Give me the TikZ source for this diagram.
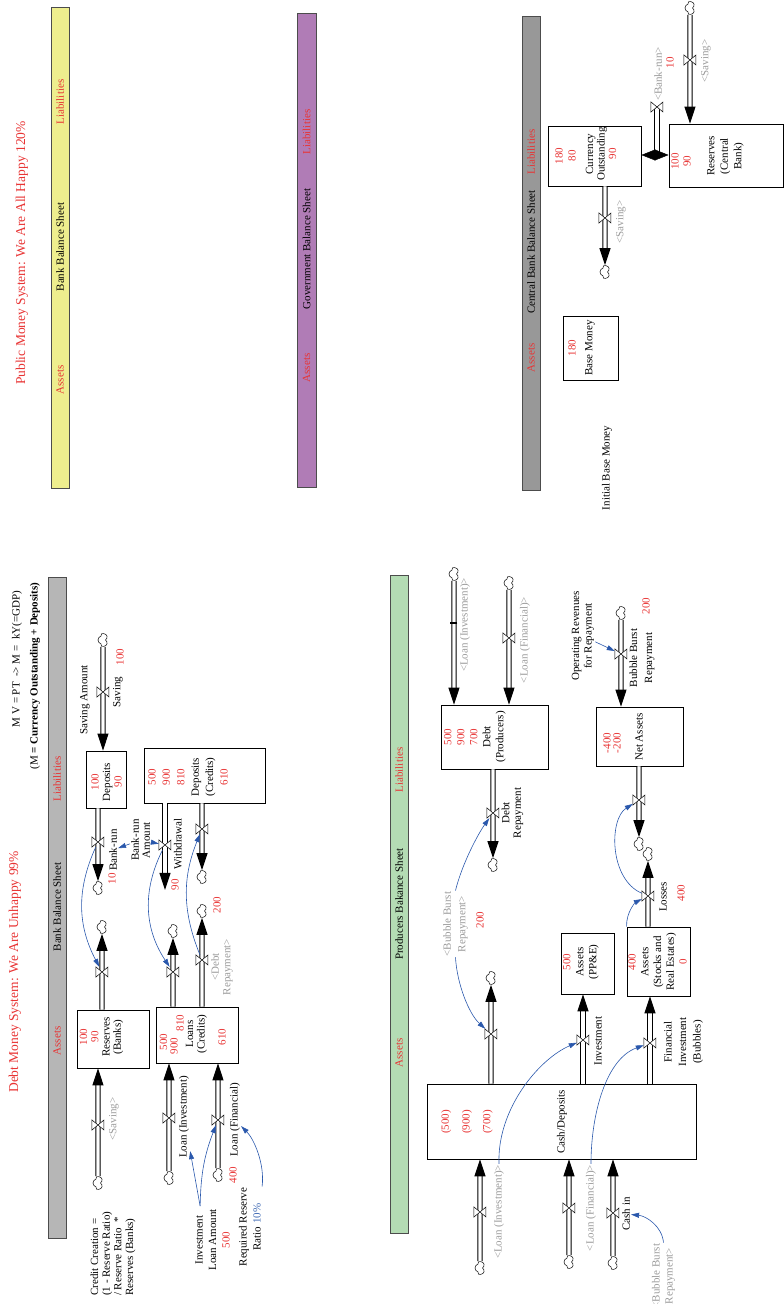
\documentclass[tikz,border=0pt]{standalone}
\usepackage{fontspec}
\setmainfont{Liberation Serif}
\usetikzlibrary{arrows.meta,positioning,shapes.symbols,calc}
\definecolor{valred}{RGB}{232,52,52}
\definecolor{shade}{RGB}{155,155,155}
\definecolor{infoblue}{RGB}{42,88,172}
\definecolor{ratioblue}{RGB}{62,105,180}
\definecolor{bankgray}{RGB}{182,182,182}
\definecolor{cbgray}{RGB}{152,152,152}
\definecolor{prodgreen}{RGB}{180,220,180}
\definecolor{bankyellow}{RGB}{238,238,142}
\definecolor{govpurple}{RGB}{176,124,182}
\newcommand{\fsz}[2]{\fontsize{#1}{#2}\selectfont}
\newcommand{\rv}[1]{\textcolor{valred}{#1}}
\tikzset{
  every node/.style={inner sep=1pt,font=\fsz{11}{12.5}},
  stock/.style={draw,line width=.8pt,fill=white,inner sep=0pt},
  sheet/.style={draw=black!70,line width=.8pt,fill=#1,minimum height=18pt,inner sep=0pt},
  txt/.style={align=center,font=\fsz{11}{#1}},
  txt/.default=12.5,
  num/.style={text=valred},
  shadow/.style={text=shade,align=center},
  title/.style={text=valred,font=\fsz{13.5}{15}},
  cloudy/.style={cloud,cloud puffs=5,cloud puff arc=150,aspect=1.2,draw,line width=.5pt,
    fill=white,minimum width=13pt,minimum height=10pt,inner sep=0pt},
  pipe/.style={draw,double=white,double distance=3.4pt,line width=.9pt,shorten >=14pt},
  pipetip/.style={draw=white,line width=1pt,-{Triangle[length=17pt,width=11pt,color=black]}},
  info/.style={draw=infoblue,line width=.6pt,-{Triangle[length=8pt,width=5pt]}},
  % valve of a flow
  pics/valve/.style={code={
    \draw[fill=white,line width=.5pt] (-5pt,6pt) -- (5pt,6pt) -- (-5pt,-6pt) -- (5pt,-6pt) -- cycle;
    \node[inner sep=0pt,minimum width=10pt,minimum height=12pt] (-v) {};
  }},
}
\newcommand{\flow}[2]{\draw[pipe] (#1) -- (#2); \draw[pipetip] (#1) -- (#2);}

\begin{document}
\begin{tikzpicture}[x=1pt,y=1pt,rotate=90,transform shape]
\useasboundingbox (0,0) rectangle (1304,784);

% debt money system: bank balance sheet
\node[title] (tdms) at (332,769) {Debt Money System: We Are Unhappy 99\%};
\node (fqty) at (645,767) {M V = PT\ \ -> M = \ kY(=GDP)};
\node (fmon) at (628,749) {(M \textbf{= Currency Outstanding + Deposits)}};
\node[sheet=bankgray,minimum width=661pt] (bbar) at (396.5,727) {};
\node[num] (bba) at (263,727) {Assets};
\node (bbt) at (397,727) {Bank Balance Sheet};
\node[num] (bbl) at (525,727) {Liabilities};

\node[stock,minimum width=57pt,minimum height=40pt] (dep) at (524.5,678) {};
\node[txt=11.5] (tdep) at (522,677.5) {\rv{100}\\Deposits\\\rv{90}};
\node[stock,minimum width=55pt,minimum height=121pt] (depcr) at (528.5,579.5) {};
\node[txt=14.4] (tdepcr) at (527,596) {\rv{500}\\\rv{900}\\\rv{810}\\Deposits\\(Credits)\\\rv{610}};
\node[stock,minimum width=58pt,minimum height=72pt] (resb) at (265,671) {};
\node[txt=11.2] (tresb) at (267,682.5) {\rv{100}\\\rv{90}\\Reserves\\(Banks)};
\node[stock,minimum width=56pt,minimum height=82pt] (loans) at (269,587) {};
\node[num] (tlo1) at (262,620.5) {500};
\node[num] (tlo2) at (258,610) {900};
\node[num] (tlo3) at (281,604) {810};
\node[txt=11.5] (tlo4) at (270,587.5) {Loans\\(Credits)};
\node[num] (tlo5) at (267,562) {610};

\node[cloudy] (csav) at (664,681) {};
\node[cloudy] (cbrun) at (416,686) {};
\coordinate (cwd) at (414,619);
\node[cloudy] (cdrb) at (427,582) {};
\node[cloudy] (cres) at (377,682) {};
\node[cloudy] (crin) at (121,686) {};
\node[cloudy] (clo1) at (373,611) {};
\node[cloudy] (clo2) at (393,582) {};
\node[cloudy] (cli) at (126,615) {};
\node[cloudy] (clf) at (129,566) {};

\flow{csav}{csav -| dep.east}
\flow{dep.west |- cbrun}{cbrun}
\flow{depcr.west |- cwd}{cwd}
\flow{depcr.west |- cdrb}{cdrb}
\flow{resb.east |- cres}{cres}
\flow{crin}{crin -| resb.west}
\flow{loans.east |- clo1}{clo1}
\flow{loans.east |- clo2}{clo2}
\flow{cli}{cli -| loans.west}
\flow{clf}{clf -| loans.west}

\pic (vsav) at (612,681) {valve};
\pic (vbrun) at (462,686) {valve};
\pic (vwd) at (459,619) {valve};
\pic (vdrb) at (475,582) {valve};
\pic (vres) at (332,682) {valve};
\pic (vrin) at (179,686) {valve};
\pic (vlo1) at (332,611) {valve};
\pic (vlo2) at (344,582) {valve};
\pic (vli) at (186,615) {valve};
\pic (vlf) at (184,566) {valve};

\node (lsava) at (604,699) {Saving Amount};
\node (lsav) at (612,666) {Saving};
\node[num] (nsav) at (647,664) {100};
\node (lbrun) at (454,671) {Bank-run};
\node[num] (nbrun) at (425,672) {10};
\node[txt=11] (lbra) at (464,643.5) {Bank-run\\Amount};
\node (lwd) at (460,606) {Withdrawal};
\node[num] (nwd) at (419,609) {90};
\node[num] (ndrb) at (399,567) {200};
\node[shadow,txt=11.5,text=shade] (ldrb) at (337,562) {<Debt\\Repayment>};
\node[shadow] (lrin) at (185,670) {<Saving>};
\node (lli) at (187,600) {Loan (Investment)};
\node (llf) at (184,549) {Loan (Financial)};
\node[num] (nlf) at (129,551) {400};
\node[txt=13.5] (lila) at (64,571.5) {Investment\\Loan Amount\\\rv{500}};
\node[txt=14] (lrrr) at (77,534) {Required Reserve\\Ratio \textcolor{ratioblue}{10\%}};
\node[txt=11.7,anchor=west,align=left] (lcc) at (7,671)
  {Credit Creation =\\(1 - Reserve Ratio)\\/ Reserve Ratio \ *\\Reserves (Banks)};

\draw[info] (lbra) -- (lbrun);
\draw[info] (lbra) -- (vwd-v);
\draw[info] (vbrun-v) to[bend right=26] (vres-v);
\draw[info] (vwd-v) to[bend right=30] (vlo1-v);
\draw[info] (vlo2-v) to[bend left=22] (vdrb-v);
\draw[info] ([shift={(2,-6)}]lila.north east) -- (lli);
\draw[info] ([shift={(2,-6)}]lila.north east) to[bend left=10] (vlf-v);
\draw[info] (lrrr.south east) .. controls (140,519) and (165,530) .. (llf);

% producers balance sheet
\node[sheet=prodgreen,minimum width=658pt] (pbar) at (400,385) {};
\node[num] (pba) at (251,385) {Assets};
\node (pbt) at (400,385) {Producers Bakance Sheet};
\node[num] (pbl) at (534,385) {Liabilities};

\node[stock,minimum width=75pt,minimum height=269pt] (cash) at (182.5,222.5) {};
\node[txt=20.8] (tcash) at (182,317) {\rv{(500)}\\\rv{(900)}\\\rv{(700)}};
\node (tcash2) at (182,222) {Cash/Deposits};
\node[stock,minimum width=64pt,minimum height=107pt] (debt) at (567,289.5) {};
\node[txt=13] (tdebt) at (567,309) {\rv{500}\\\rv{900}\\\rv{700}\\Debt\\(Producers)};
\node[stock,minimum width=61pt,minimum height=53pt] (ppe) at (340.5,196.5) {};
\node[txt=13] (tppe) at (342,203) {\rv{500}\\Assets\\(PP\&E)};
\node[stock,minimum width=69pt,minimum height=63pt] (stk) at (342.5,125.5) {};
\node[txt=12.75] (tstk) at (342,126.5) {\rv{400}\\Assets\\(Stocks and\\Real Estates)\\\rv{0}};
\node[stock,minimum width=59pt,minimum height=87pt] (net) at (567.5,144.5) {};
\node[txt=10] (tnet) at (561,172) {\rv{-400}\\\rv{-200}};
\node (tnet2) at (567,145) {Net Assets};

\node[cloudy] (ccli) at (36,304) {};
\node[cloudy] (cclf) at (42,215) {};
\node[cloudy] (ccin) at (41,171) {};
\node[cloudy] (ccbo) at (326,293) {};
\node[cloudy] (cdrp) at (439,291) {};
\node[cloudy] (cdli) at (730,330) {};
\node[cloudy] (cdlf) at (721,275) {};
\node[cloudy] (cnet) at (460,145) {};
\node[cloudy] (closs) at (450,136) {};
\node[cloudy] (cbbr) at (691,163) {};
\coordinate (pinv) at (264,201);
\coordinate (pfin) at (261,134);

\flow{ccli}{ccli -| cash.west}
\flow{cclf}{cclf -| cash.west}
\flow{ccin}{ccin -| cash.west}
\flow{cash.east |- pinv}{ppe.west |- pinv}
\flow{cash.east |- pfin}{stk.west |- pfin}
\flow{cash.east |- ccbo}{ccbo}
\flow{debt.west |- cdrp}{cdrp}
\flow{cdli}{cdli -| debt.east}
\flow{cdlf}{cdlf -| debt.east}
\flow{stk.east |- closs}{closs}
\flow{net.west |- cnet}{cnet}
\flow{cbbr}{cbbr -| net.east}

\pic (vcli) at (92,304) {valve};
\pic (vclf) at (96,215) {valve};
\pic (vcin) at (91,171) {valve};
\pic (vinv) at (pinv) {valve};
\pic (vfin) at (pfin) {valve};
\pic (vcbo) at (270,293) {valve};
\pic (vrep) at (491,291) {valve};
\pic (vdlf) at (666,275) {valve};
\pic (vloss) at (408,136) {valve};
\pic (vnet) at (504,145) {valve};
\pic (vbbr) at (650,163) {valve};
\draw[line width=1.2pt] (681,326.5) -- (681,333.5);

\node[shadow] (lcli) at (92,285) {<Loan (Investment)>};
\node[shadow] (lclf) at (96,193) {<Loan (Financial)>};
\node (lcin) at (90,158) {Cash in};
\node[shadow,txt=13,text=shade] (lbbr2) at (28,120.5) {<Bubble Burst\\Repayment>};
\node (linv) at (263,186) {Investment};
\node[txt=14.5] (lfin) at (262,100.5) {Financial\\Investment\\(Bubbles)};
\node[shadow,txt=14.5,text=shade] (lbbr1) at (380,328.5) {<Bubble Burst\\Repayment>};
\node[num] (nbbr1) at (384,304) {200};
\node[txt=11.5] (lrep) at (491,271.5) {Debt\\Repayment};
\node[shadow] (ldli) at (679,319) {<Loan (Investment)>};
\node[shadow] (ldlf) at (664,259) {<Loan (Financial)>};
\node (lloss) at (407,121) {Losses};
\node[num] (nloss) at (411,103) {400};
\node[txt=15] (lbbr) at (646,142) {Bubble Burst\\Repayment};
\node[num] (nbbr) at (698,138) {200};
\node[txt=12.5] (lopr) at (668,201) {Operating Revenues\\for Repayment};

\draw[info] (lcli.east) .. controls (195,287) and (245,245) .. (vinv-v);
\draw[info] (lclf.east) .. controls (190,193) and (245,178) .. (vfin-v);
\draw[info] (lbbr2.east) .. controls (78,122) and (88,138) .. (lcin);
\draw[info] (lbbr1.east) .. controls (440,322) and (470,306) .. (vrep-v);
\draw[info] (lbbr1.west) .. controls (320,327) and (290,315) .. (vcbo-v);
\draw[info] (vloss-v) .. controls (425,175) and (485,175) .. (vnet-v);
\draw[info] (stk.north east) .. controls (392,158) and (402,148) .. (vloss-v);
\draw[info] (lopr) -- (vbbr-v);

% public money system
\node[title] (tpms) at (1051,762) {Public Money System: We Are All Happy 120\%};
\node[sheet=bankyellow,minimum width=481pt] (ybar) at (1056.5,724) {};
\node[num] (yba) at (924,724) {Assets};
\node (ybt) at (1057,724) {Bank Balance Sheet};
\node[num] (ybl) at (1202,724) {Liabilities};
\node[sheet=govpurple,minimum width=474pt,minimum height=19pt] (gbar) at (1054,477.5) {};
\node[num] (gba) at (936,477.5) {Assets};
\node (gbt) at (1055,477.5) {Government Balance Sheet};
\node[num] (gbl) at (1172,477.5) {Liabilities};
\node[sheet=cbgray,minimum width=474pt] (cbar) at (1051,253) {};
\node[num] (cba) at (946,253) {Assets};
\node (cbt) at (1052,253) {Central Bank Balance Sheet};
\node[num] (cbl) at (1152,253) {Liabilities};

\node[stock,minimum width=64pt,minimum height=55pt] (base) at (956,193.5) {};
\node[num] (tbase1) at (956,212) {180};
\node (tbase2) at (956,194) {Base Money};
\node (libm) at (836,177) {Initial Base Money};
\node[stock,minimum width=60pt,minimum height=93pt] (cout) at (1148,189.5) {};
\node[txt=13] (tcout1) at (1148,218.5) {\rv{180}\\\rv{80}};
\node[txt=11.5] (tcout2) at (1150,183) {Currency\\Outstanding\\\rv{90}};
\node[stock,minimum width=63pt,minimum height=114pt] (rcb) at (1148.5,58) {};
\node[txt=12] (trcb1) at (1142.5,103) {\rv{100}\\\rv{90}};
\node[txt=13.5] (trcb2) at (1148,58.5) {Reserves\\(Central\\Bank)};

\node[cloudy] (ccos) at (1032,179) {};
\node[cloudy] (crcb) at (1296,94) {};
\coordinate (pcbr) at (1197,127);
\coordinate (jcbr) at (1149,129);
\flow{cout.west |- ccos}{ccos}
\flow{crcb}{crcb -| rcb.east}
\draw[pipe,shorten >=0pt] (pcbr) -- (jcbr |- pcbr);
\draw[draw=white,line width=.5pt,-{Triangle[length=14pt,width=11pt,color=black]}] (jcbr) -- (jcbr |- cout.south);
\draw[draw=white,line width=.5pt,-{Triangle[length=14pt,width=11pt,color=black]}] (jcbr) -- (jcbr |- rcb.north);
\pic (vcos) at (1086,179) {valve};
\pic (vrcb) at (1244,94) {valve};
\pic (vcbr) at (pcbr) {valve};
\node[shadow] (lcos) at (1082,163) {<Saving>};
\node[shadow] (lrcb) at (1243,78) {<Saving>};
\node[shadow] (lcbr) at (1230,126) {<Bank-run>};
\node[num] (ncbr) at (1241,114) {10};
\end{tikzpicture}
\end{document}
